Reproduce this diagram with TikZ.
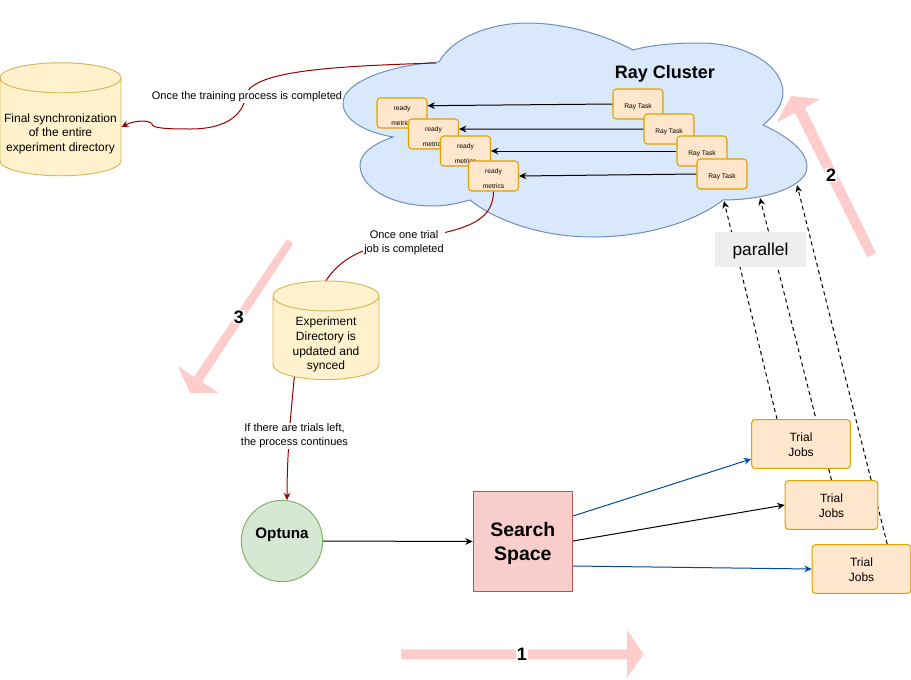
\documentclass[tikz,border=0pt]{standalone}
\usepackage{fontspec}
\setmainfont{Liberation Sans}
\usetikzlibrary{shapes.geometric, arrows.meta, backgrounds}
\definecolor{CloudBlue}{HTML}{DAE8FC}
\definecolor{CloudEdge}{HTML}{6C8EBF}
\definecolor{JobOrange}{HTML}{FFE6CC}
\definecolor{JobEdge}{HTML}{E0A000}
\definecolor{StoreYellow}{HTML}{FFF2CC}
\definecolor{StoreEdge}{HTML}{D6B656}
\definecolor{OptunaGreen}{HTML}{D5E8D4}
\definecolor{OptunaEdge}{HTML}{82B366}
\definecolor{SpaceRed}{HTML}{F8CECC}
\definecolor{SpaceEdge}{HTML}{B85450}
\definecolor{SyncRed}{HTML}{990000}
\definecolor{SplitBlue}{HTML}{004C99}
\definecolor{StepPink}{HTML}{FFCCCC}
\definecolor{ParallelGrey}{HTML}{EEEEEE}
\tikzset{
    % Box styles
    raybox/.style={
        rectangle,
        rounded corners=2.5pt,
        draw=JobEdge,
        fill=JobOrange,
        line width=0.8pt,
        minimum width=37.5pt,
        minimum height=22.5pt,
        inner sep=0pt,
        align=center
    },
    readybox/.style={
        raybox,
        text height=19pt,
        font=\fontsize{5}{11}\selectfont
    },
    taskbox/.style={
        raybox,
        text height=8pt,
        font=\fontsize{5}{6}\selectfont
    },
    jobbox/.style={
        raybox,
        minimum width=74pt,
        minimum height=36.5pt,
        text height=19.2pt,
        font=\fontsize{9}{11.2}\selectfont
    },
    store/.style={
        cylinder,
        shape border rotate=90,
        aspect=0.375,
        text width=60pt,
        draw=StoreEdge,
        fill=StoreYellow,
        line width=0.7pt,
        inner sep=0pt
    },
    storetext/.style={
        inner sep=0pt,
        align=center,
        yshift=-5pt,
        font=\fontsize{9}{10.9}\selectfont
    },
    edgelabel/.style={
        fill=white,
        inner sep=1pt,
        align=center,
        font=\fontsize{8.25}{10.5}\selectfont
    },
    steplabel/.style={
        fill=white,
        inner sep=0.5pt,
        font=\fontsize{13.5}{15}\selectfont\bfseries
    },
    % Arrow styles
    arrow/.style={
        ->,
        >={Stealth[length=5.5pt,width=5pt]},
        line width=0.75pt,
        draw=black
    },
    syncarrow/.style={
        arrow,
        draw=SyncRed
    },
    bluearrow/.style={
        arrow,
        draw=SplitBlue
    },
    dashedarrow/.style={
        arrow,
        dash pattern=on 3pt off 2.5pt
    },
    stepmark/.style={
        fill=StepPink
    }
}
\begin{document}
\begin{tikzpicture}[x=0.75pt, y=-0.75pt]
    \useasboundingbox (0,0) rectangle (911,679);

    % Cloud
    \begin{scope}[on background layer]
        \draw[draw=CloudEdge, fill=CloudBlue, line width=0.75pt]
            (439,62) .. controls (452,38) and (490,23) .. (527,23)
            .. controls (565,23) and (605,35) .. (633,50)
            .. controls (655,44) and (680,43) .. (700,43)
            .. controls (745,43) and (783,65) .. (783,93)
            .. controls (783,105) and (773,117) .. (763,125)
            .. controls (785,135) and (807,150) .. (807,167)
            .. controls (807,185) and (770,200) .. (723,200)
            .. controls (695,222) and (645,237) .. (593,237)
            .. controls (540,237) and (495,220) .. (470,200)
            .. controls (455,204) and (445,206) .. (433,206)
            .. controls (390,206) and (360,187) .. (360,165)
            .. controls (360,153) and (375,143) .. (393,137)
            .. controls (365,132) and (343,120) .. (343,103)
            .. controls (343,82) and (390,65) .. (439,62) -- cycle;
    \end{scope}
    \coordinate (cloudout) at (436,63);
    \coordinate (cloudin1) at (724,201);
    \coordinate (cloudin2) at (760,198);
    \coordinate (cloudin3) at (797,185);
    \node[text height=13pt, font=\fontsize{13.5}{15}\selectfont\bfseries] (cluster) at (665,72) {Ray Cluster};

    % Ready boxes
    \node[readybox] (ready1) at (402,113) {ready\\metrics};
    \node[readybox] (ready2) at (433.5,134) {ready\\metrics};
    \node[readybox] (ready3) at (465.5,151) {ready\\metrics};
    \node[readybox] (ready4) at (493.5,176) {ready\\metrics};

    % Ray tasks
    \node[taskbox] (task1) at (638,104) {Ray Task};
    \node[taskbox] (task2) at (669,129) {Ray Task};
    \node[taskbox] (task3) at (702,151) {Ray Task};
    \node[taskbox] (task4) at (722,174) {Ray Task};

    \draw[arrow] (task1.west) -- (ready1.16);
    \draw[arrow] (task2.west) -- (ready2.11);
    \draw[arrow] (task3.west) -- (ready3.east);
    \draw[arrow] (task4.west) -- (ready4.east);

    % Stores
    \node[store, minimum width=90.75pt, minimum height=84.75pt,
        label={[storetext]center:Final synchronization\\of the entire\\experiment directory}] (finalsync) at (60.5,127) {};
    \node[store, minimum width=79.5pt, minimum height=74pt,
        label={[storetext]center:Experiment\\Directory is\\updated and\\synced}] (expdir) at (326,338) {};

    % Search
    \node[circle, draw=OptunaEdge, fill=OptunaGreen, line width=0.75pt, minimum size=61pt, inner sep=0pt,
        text depth=11pt, font=\fontsize{11.4}{14}\selectfont\bfseries] (optuna) at (282,541) {Optuna};
    \node[rectangle, draw=SpaceEdge, fill=SpaceRed, line width=0.75pt, minimum size=74.5pt, inner sep=0pt, align=center,
        text height=31.5pt, font=\fontsize{14.6}{18}\selectfont\bfseries] (space) at (522.8,541.5) {Search\\Space};
    \node[jobbox] (job1) at (801,444) {Trial\\Jobs};
    \node[jobbox, minimum width=69.5pt] (job2) at (831.5,505) {Trial\\Jobs};
    \node[jobbox] (job3) at (861.5,569) {Trial\\Jobs};

    \draw[arrow] (optuna.east) -- (space.west);
    \coordinate (spaceout1) at (573,516);
    \coordinate (spaceout2) at (573,541);
    \coordinate (spaceout3) at (573,566);
    \draw[bluearrow] (spaceout1) -- (job1.west |- 0,459);
    \draw[arrow] (spaceout2) -- (job2.west);
    \draw[bluearrow] (spaceout3) -- (job3.west);

    % Dashed lines run behind the job boxes
    \begin{scope}[on background layer]
        \draw[dashedarrow] (job1.134) -- (cloudin1);
        \draw[dashedarrow] (job2.north) -- (cloudin2);
        \draw[dashedarrow] (job3.44) -- (cloudin3);
    \end{scope}
    \node[fill=ParallelGrey, minimum width=68pt, minimum height=26pt, inner sep=0pt,
        text height=12.4pt, font=\fontsize{13}{15}\selectfont] (parallel) at (760.5,249.5) {parallel};

    % Sync edges
    \draw[syncarrow] (cloudout) .. controls (340,66) and (260,70) .. (247,92)
        .. controls (243,125) and (210,129) .. (190,129)
        .. controls (165,129) and (152,128) .. (152,124)
        .. controls (150,120) and (135,120) .. (finalsync.east);
    \draw[syncarrow, -] (ready4.south) .. controls (493,225) and (460,230) .. (404,241)
        .. controls (360,247) and (340,260) .. (expdir.north);
    \draw[syncarrow] (expdir.231) .. controls (290,420) and (287,460) .. (optuna.83);

    % Labels
    \node[edgelabel] (trainlabel) at (247,96.5) {Once the training process is completed};
    \node[edgelabel] (triallabel) at (404,243) {Once one trial\\job is completed};
    \node[edgelabel] (leftlabel) at (294.5,436) {If there are trials left,\\the process continues};

    % Step arrows
    \fill[stepmark] (401,649.3) -- (627,649.3) -- (627,630) -- (643.5,654) -- (627,678) -- (627,659.3) -- (401,659.3) -- cycle;
    \fill[stepmark] (876,253) -- (867,257) -- (795,113) -- (777,122) -- (791,96) -- (820,99) -- (805,108) -- cycle;
    \fill[stepmark] (287,239) -- (293,244) -- (202,382) -- (219,393) -- (190,393) -- (178,366) -- (194,377) -- cycle;
    \node[steplabel] (step1) at (522,654) {1};
    \node[steplabel] (step2) at (831,175) {2};
    \node[steplabel] (step3) at (239,317) {3};
\end{tikzpicture}
\end{document}
